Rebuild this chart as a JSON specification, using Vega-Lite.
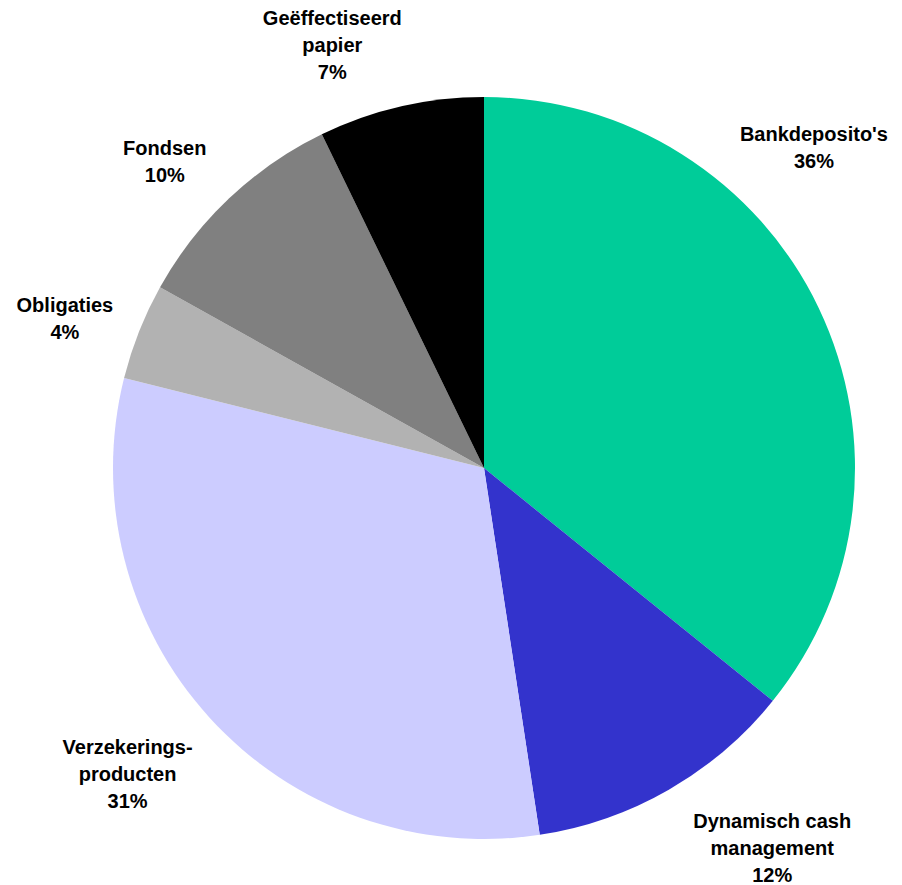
{
  "$schema": "https://vega.github.io/schema/vega-lite/v6.json",
  "autosize": {"type": "none"},
  "width": 836,
  "height": 834,
  "padding": {"left": 66, "top": 51, "right": 0, "bottom": 0},
  "background": "white",
  "config": {"view": {"stroke": null}, "text": {"font": "Liberation Sans", "fontWeight": "bold", "fontSize": 20, "lineHeight": 27, "lineBreak": "\n", "align": "center", "baseline": "middle", "color": "black"}},
  "data": {
    "values": [
      {"order": 1, "cat": "Bankdeposito's", "value": 35.8, "label": "Bankdeposito's\n36%"},
      {"order": 2, "cat": "Dynamisch cash management", "value": 11.8, "label": "Dynamisch cash\nmanagement\n12%"},
      {"order": 3, "cat": "Verzekeringsproducten", "value": 31.3, "label": "Verzekerings-\nproducten\n31%"},
      {"order": 4, "cat": "Obligaties", "value": 4.2, "label": "Obligaties\n4%"},
      {"order": 5, "cat": "Fondsen", "value": 9.7, "label": "Fondsen\n10%"},
      {"order": 6, "cat": "Geëffectiseerd papier", "value": 7.2, "label": "Geëffectiseerd\npapier\n7%"}
    ]
  },
  "encoding": {
    "theta": {"field": "value", "type": "quantitative", "stack": true},
    "order": {"field": "order", "type": "quantitative"}
  },
  "layer": [
    {
      "mark": {"type": "arc", "radius": 371, "stroke": null},
      "encoding": {
        "color": {
          "field": "cat",
          "type": "nominal",
          "sort": null,
          "scale": {
            "domain": ["Bankdeposito's", "Dynamisch cash management", "Verzekeringsproducten", "Obligaties", "Fondsen", "Geëffectiseerd papier"],
            "range": ["#00CC99", "#3333CC", "#CCCCFF", "#B2B2B2", "#808080", "#000000"]
          },
          "legend": null
        }
      }
    },
    {
      "mark": {"type": "text", "radius": 440, "dx": -67, "dy": -143},
      "encoding": {"text": {"condition": {"test": "datum.order === 1", "field": "label"}, "value": ""}}
    },
    {
      "mark": {"type": "text", "radius": 440, "dx": 69, "dy": -28},
      "encoding": {"text": {"condition": {"test": "datum.order === 2", "field": "label"}, "value": ""}}
    },
    {
      "mark": {"type": "text", "radius": 440, "dx": -31, "dy": -16},
      "encoding": {"text": {"condition": {"test": "datum.order === 3", "field": "label"}, "value": ""}}
    },
    {
      "mark": {"type": "text", "radius": 440, "dx": -10, "dy": 0},
      "encoding": {"text": {"condition": {"test": "datum.order === 4", "field": "label"}, "value": ""}}
    },
    {
      "mark": {"type": "text", "radius": 440, "dx": -17, "dy": 1},
      "encoding": {"text": {"condition": {"test": "datum.order === 5", "field": "label"}, "value": ""}}
    },
    {
      "mark": {"type": "text", "radius": 440, "dx": -53, "dy": -20},
      "encoding": {"text": {"condition": {"test": "datum.order === 6", "field": "label"}, "value": ""}}
    }
  ]
}
